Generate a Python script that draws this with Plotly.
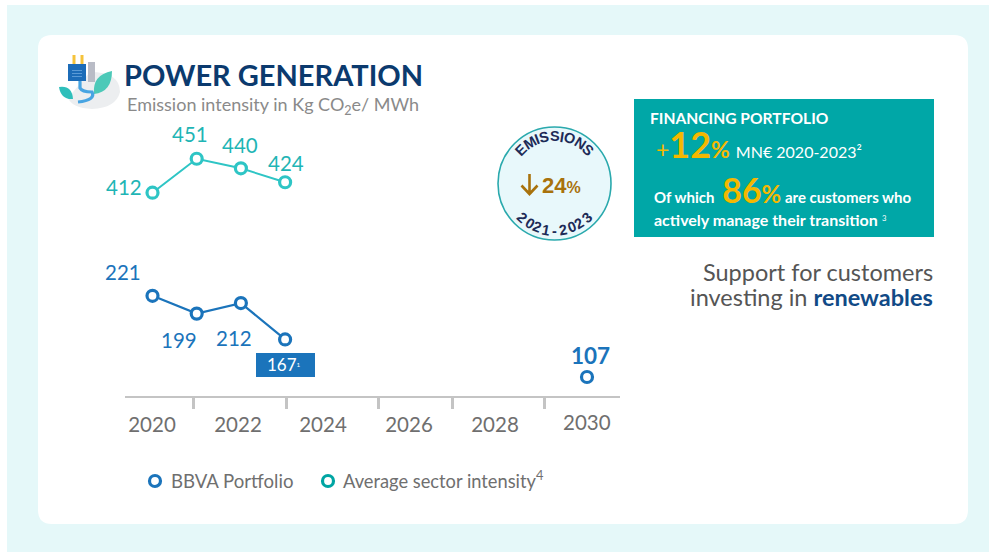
import math
import plotly.graph_objects as go

W, H = 989, 552

# ---- data ----
years_hist = [2020, 2021, 2022, 2023]
bbva_values = [221, 199, 212, 167]
sector_values = [412, 451, 440, 424]
target_year = [2030]
target_value = [107]
axis_labels = ["2020", "2022", "2024", "2026", "2028", "2030"]
series_names = ["BBVA Portfolio", "Average sector intensity<sup>4</sup>"]

BLUE = "#1b74bb"
TEAL_LINE = "#2ec5c5"
TEAL_DARK = "#00a5a3"
NAVY = "#0b3a6e"
GRAY = "#6f6f6f"
BROWN = "#a8720c"
FONT = "Lato"


def fx(p):
    return p / W


def fy(p):
    return 1 - p / H


X0, X1 = 125, 620
Y0, Y1 = 396, 130
PX_PER_YEAR = 44.2
X_2020 = 152.5
xrange_ = [2020 - (X_2020 - X0) / PX_PER_YEAR, 2020 + (X1 - X_2020) / PX_PER_YEAR]
# the 2030 target is drawn on the infographic's own, compressed stretch of the time line
xrange_target = [2030 - (587 - X0) / PX_PER_YEAR, 2030 + (X1 - 587) / PX_PER_YEAR]


def year_at(p):
    return 2020 + (p - X_2020) / PX_PER_YEAR


def yrange(v_at_y, y_ref, slope):
    return [v_at_y - (Y0 - y_ref) / slope, v_at_y + (y_ref - Y1) / slope]


shapes = []
annots = []


def rect(x0, y0, x1, y1, fill, line=None, lw=0, kind="rect"):
    shapes.append(dict(type=kind, xref="paper", yref="paper", x0=fx(x0), x1=fx(x1), y0=fy(y0), y1=fy(y1),
                       fillcolor=fill, line=dict(color=line or fill, width=lw), layer="below"))


def path_px(points, fill, line=None, lw=0):
    shapes.append(dict(type="path", xref="paper", yref="paper", path=points, fillcolor=fill,
                       line=dict(color=line or fill, width=lw), layer="below"))


def P(x, y):
    return f"{fx(x):.5f},{fy(y):.5f}"


def text(x, y, s, size, color, anchor="left", angle=0, bold=False, va="middle", family=FONT):
    if bold:
        s = f"<b>{s}</b>"
    annots.append(dict(xref="paper", yref="paper", x=fx(x), y=fy(y), text=s, showarrow=False, xanchor=anchor,
                       yanchor=va, textangle=angle, font=dict(size=size, color=color, family=family),
                       borderpad=0, align=anchor))


# page + card
rect(7, 5, 989, 552, "#e5f8f9")
shapes.append(dict(type="path", xref="paper", yref="paper", fillcolor="#ffffff", line=dict(width=0), layer="below",
                   path=f"M {P(52,35)} L {P(954,35)} Q {P(968,35)} {P(968,49)} L {P(968,510)} Q {P(968,524)} {P(954,524)} "
                        f"L {P(52,524)} Q {P(38,524)} {P(38,510)} L {P(38,49)} Q {P(38,35)} {P(52,35)} Z"))

# icon
path_px(f"M {P(90,72)} Q {P(120,72)} {P(120,92)} Q {P(116,108)} {P(92,109)} Q {P(72,108)} {P(68,98)} Z", "#eceef0")
rect(88, 62, 95, 82, "#b9bcc6")
path_px(f"M {P(59,87)} Q {P(72,85)} {P(73,99)} Q {P(61,100)} {P(59,87)} Z", "#2fbfbb")
path_px(f"M {P(112,71)} Q {P(112,92)} {P(94,94)} Q {P(92,75)} {P(112,71)} Z", "#4cc9b8")
path_px(f"M {P(80,80)} L {P(80,88)} Q {P(82,92)} {P(92,92)} Q {P(96,100)} {P(78,102)}", "rgba(0,0,0,0)", "#47a4e2", 3.2)
rect(72.5, 55, 75.5, 64, "#f5c33b")
rect(80.5, 55, 83.5, 64, "#f5c33b")
rect(68, 64, 86, 81, "#1c6cb8")
for yy in (70, 73, 76):
    rect(72, yy, 82, yy + 1, "#5a9ad6")

# title block
text(122.5, 74.5, "POWER GENERATION", 29, NAVY, bold=True)
text(126, 106, 'Emission intensity in Kg CO<sub>2</sub>e/ MWh', 18, "#8a8a8a")

# data labels
for (x, y, s) in [(124, 187, "412"), (190, 134, "451"), (240, 145, "440"), (286, 163, "424")]:
    text(x, y, s, 20.5, "#1fb5b5", anchor="center")
for (x, y, s) in [(123, 272, "221"), (179, 340, "199"), (234, 338, "212")]:
    text(x, y, s, 20.5, BLUE, anchor="center")
text(590, 355, "107", 22.5, BLUE, anchor="center", bold=True)

# 167 box
rect(256, 353, 315, 377, BLUE)
text(284, 364, '167<span style="font-size:9px"><sup>1</sup></span>', 17, "#ffffff", anchor="center")

# circle badge
CX, CY, R = 554.5, 183.5, 56.5
rect(CX - R, CY - R, CX + R, CY + R, "#e8f8fb", "#2aa9ad", 1.6, kind="circle")

GLYPH = {"E": .667, "M": .833, "I": .278, "S": .667, "O": .778, "N": .722, "-": .5}


def arc_text(s, radius, sweep_deg, top=True):
    """Spread s over sweep_deg, first and last glyph centres at the ends, with proportional advances."""
    w = [GLYPH.get(c, .556) for c in s]
    steps = [(w[i] + w[i + 1]) / 2 for i in range(len(s) - 1)]
    scale = sweep_deg / sum(steps)
    off = -sweep_deg / 2
    for i, ch in enumerate(s):
        if top:
            a, ang = off, off
        else:
            a, ang = 180 - off, -off
        x = CX + radius * math.sin(math.radians(a))
        y = CY - radius * math.cos(math.radians(a))
        text(x, y, ch, 14.5, "#1d2b57", anchor="center", angle=ang, bold=True, family="Liberation Sans")
        if i < len(steps):
            off += steps[i] * scale


arc_text("EMISSIONS", 47.5, 90, top=True)
arc_text("2021-2023", 47, 86, top=False)
path_px(f"M {P(529.5,174)} L {P(529.5,194)} M {P(521.5,185.5)} L {P(529.5,194)} L {P(537.5,185.5)}",
        "rgba(0,0,0,0)", BROWN, 2.6)
text(541, 185, '24<span style="font-size:16px">%</span>', 22, BROWN, bold=True, family="Liberation Sans")

# financing box
rect(634, 99, 934, 237, "#00a7a7")
text(649, 118, "FINANCING PORTFOLIO", 15.6, "#ffffff", bold=True)
text(655, 144,
     '<span style="color:#f5b800">+<b><span style="font-size:36px">12</span><span style="font-size:23px">%</span></b></span>'
     '&nbsp;<span style="font-size:16px">MN€ 2020-2023²</span>', 23, "#ffffff")
text(653, 189,
     '<b>Of which</b>&nbsp;&nbsp;<b><span style="color:#f5b800"><span style="font-size:34px">86</span>'
     '<span style="font-size:24px">%</span></span>&nbsp;are customers who</b>', 15, "#ffffff")
text(653, 219, '<b>actively manage their transition</b>&nbsp;<span style="font-size:11px"><sup>3</sup></span>', 16, "#ffffff")

# right text
text(934, 272, "Support for customers", 23.5, "#555555", anchor="right")
text(934, 297, 'investing in <b><span style="color:#114a86">renewables</span></b>', 23.5, "#555555", anchor="right")

# the 2030 tick label sits a little higher, so it stays an annotation
text(587, 422, axis_labels[-1], 20.5, GRAY, anchor="center")

# legend, as the reference sets it: tight marker + label pairs
rect(149.5, 475.5, 160.5, 486.5, "#ffffff", BLUE, 3.2, kind="circle")
text(169.5, 481, series_names[0], 18.6, GRAY)
rect(322.5, 475.5, 333.5, 486.5, "#ffffff", TEAL_DARK, 3.2, kind="circle")
text(341.5, 479, series_names[1], 18.3, GRAY)

fig = go.Figure()
marker_bbva = dict(size=11, color="#ffffff", line=dict(color=BLUE, width=3.2))
marker_sector = dict(size=11, color="#ffffff", line=dict(color=TEAL_LINE, width=3.2))

fig.add_trace(go.Scatter(x=years_hist, y=sector_values, yaxis="y", xaxis="x", mode="lines+markers",
                         name="Average sector intensity", line=dict(color=TEAL_LINE, width=2), marker=marker_sector))
fig.add_trace(go.Scatter(x=years_hist, y=bbva_values, yaxis="y2", xaxis="x", mode="lines+markers",
                         name="BBVA Portfolio", line=dict(color=BLUE, width=2.2), marker=marker_bbva))
fig.add_trace(go.Scatter(x=target_year, y=target_value, yaxis="y3", xaxis="x3", mode="markers",
                         name="BBVA Portfolio 2030", marker=marker_bbva))
# an empty trace keeps the tick axis alive
fig.add_trace(go.Scatter(x=[None], y=[None], xaxis="x2", yaxis="y", hoverinfo="skip"))

hidden = dict(visible=False, domain=[fy(Y0), fy(Y1)], fixedrange=True)
hidden_x = dict(domain=[fx(X0), fx(X1)], fixedrange=True, overlaying="x", anchor="y", showgrid=False, zeroline=False)
label_pos = [year_at(p) for p in (152, 238, 323, 409, 495)]
tick_pos = [year_at(p) for p in (193, 286, 378, 452, 544)]

fig.update_layout(
    width=W, height=H, autosize=False, showlegend=False,
    margin=dict(l=0, r=0, t=0, b=0),
    paper_bgcolor="#ffffff", plot_bgcolor="rgba(0,0,0,0)",
    font=dict(family=FONT, color=GRAY),
    shapes=shapes, annotations=annots,
    xaxis=dict(domain=[fx(X0), fx(X1)], range=xrange_, showgrid=False, zeroline=False, showline=True,
               linecolor="#c4c4c4", linewidth=2, tickmode="array", tickvals=label_pos, ticktext=axis_labels[:-1],
               ticks="", ticklabelstandoff=9, tickfont=dict(size=20.5, color=GRAY, family=FONT),
               anchor="y", fixedrange=True),
    xaxis2=dict(range=xrange_, side="bottom", tickmode="array", tickvals=tick_pos, showticklabels=False,
                ticks="outside", ticklen=12, tickwidth=3, tickcolor="#c4c4c4", **hidden_x),
    xaxis3=dict(range=xrange_target, visible=False, **hidden_x),
    yaxis=dict(range=yrange(431.75, 175.5, 0.871), **hidden),
    yaxis2=dict(range=yrange(199.75, 313, 0.808), overlaying="y", **hidden),
    yaxis3=dict(range=yrange(107, 377, 0.808), overlaying="y", **hidden),
)

fig.write_html("out.html", config=dict(displayModeBar=False),
               post_script="document.body.style.margin='0';document.body.style.overflow='hidden';")
